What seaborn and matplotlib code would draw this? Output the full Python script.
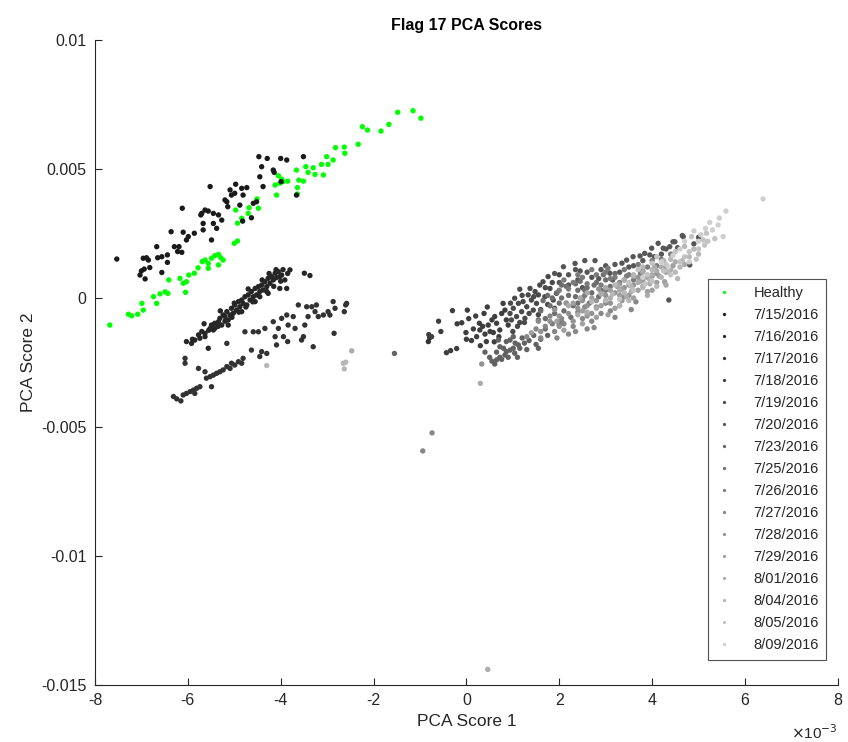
import numpy as np
import pandas as pd
import matplotlib
matplotlib.use("Agg")
import matplotlib.pyplot as plt
import seaborn as sns

# ---- data (PCA scores, in units of 1e-3) ----
labels = ["Healthy", "7/15/2016", "7/16/2016", "7/17/2016", "7/18/2016", "7/19/2016",
          "7/20/2016", "7/23/2016", "7/25/2016", "7/26/2016", "7/27/2016", "7/28/2016",
          "7/29/2016", "8/01/2016", "8/04/2016", "8/05/2016", "8/09/2016"]

healthy = [(-7.68,-1.05),(-7.28,-0.63),(-7.21,-0.69),(-7.08,-0.63),(-6.96,-0.47),(-6.99,-0.21),
           (-6.74,0.05),(-6.67,-0.21),(-6.60,0.16),(-6.49,0.24),(-6.43,0.18),(-6.41,0.70),(-6.17,0.76),
           (-6.10,0.57),(-6.03,0.63),(-6.05,0.22),(-5.98,0.89),(-5.86,0.96),(-5.78,1.17),(-5.69,1.41),
           (-5.63,1.47),(-5.56,1.34),(-5.49,1.54),(-5.42,1.64),(-5.34,1.69),(-5.29,1.56),(-5.24,1.47),
           (-5.34,1.28),(-5.56,1.15),(-5.00,2.12),(-4.93,2.21),(-4.93,2.90),(-4.84,3.09),(-4.97,3.41),
           (-4.68,3.50),(-4.48,3.48),(-4.70,3.28),(-4.51,3.84),(-4.09,3.99),(-4.12,4.38),(-4.02,4.45),
           (-3.95,4.51),(-3.85,4.53),(-4.05,4.74),(-3.98,4.61),(-3.66,4.96),(-3.64,4.28),(-3.64,4.03),
           (-3.61,4.57),(-3.51,4.53),(-3.46,5.09),(-3.41,4.87),(-3.30,5.05),(-3.26,4.79),(-3.08,4.77),
           (-3.12,5.18),(-3.01,5.48),(-2.98,5.18),(-2.87,5.35),(-2.82,5.83),(-2.63,5.85),(-2.62,5.61),
           (-2.33,5.96),(-2.24,6.64),(-2.13,6.51),(-1.84,6.47),(-1.67,6.73),(-1.48,7.20),(-1.15,7.26),
           (-0.98,6.97)]

d0715 = [(-7.53,1.51),(-7.03,0.89),(-7.00,1.05),(-6.94,1.12),(-6.92,0.74),(-6.96,1.54),(-6.89,1.56),
         (-6.85,1.47),(-6.82,1.18),(-6.67,1.99),(-6.65,1.56),(-6.56,1.60),(-6.56,0.99),(-6.44,1.38),
         (-6.44,1.67),(-6.36,2.57),(-6.29,1.99),(-6.22,1.80),(-6.19,1.99),(-6.13,1.77),(-6.12,3.48),
         (-6.10,2.55),(-6.03,2.25),(-5.99,2.38),(-5.86,2.51),(-5.72,3.22),(-5.70,3.28),(-5.67,2.64),
         (-5.67,2.89),(-5.63,3.41),(-5.56,3.37),(-5.52,4.32),(-5.49,2.25),(-5.45,2.89),(-5.45,3.28),
         (-5.38,2.70),(-5.34,3.22),(-5.27,3.02),(-5.20,3.80),(-5.16,3.73),(-5.14,3.54),(-5.09,4.19),
         (-5.06,3.99),(-4.99,4.06),(-4.97,4.41),(-4.88,3.60),(-4.84,4.25),(-4.82,2.98),(-4.81,3.99),
         (-4.73,4.28),(-4.63,3.11),(-4.59,3.67),(-4.52,3.73),(-4.47,5.48),(-4.45,4.70),(-4.41,5.09),
         (-4.38,4.32),(-4.29,5.41),(-4.16,4.96),(-4.14,4.87),(-4.00,5.41),(-3.99,4.51),(-3.87,5.35),
         (-3.66,3.99),(-3.51,5.48)]

d0716 = [(-6.03,-1.69),(-5.92,-1.76),(-5.85,-1.63),(-5.77,-1.43),(-5.74,-1.56),(-5.63,-1.50),
         (-5.56,-1.95),(-5.52,-1.18),(-5.49,-1.05),(-5.45,-1.24),(-5.42,-0.98),(-5.34,-0.92),
         (-5.31,-0.79),(-5.27,-1.05),(-5.24,-0.66),(-5.20,-0.72),(-5.16,-0.53),(-5.13,-0.85),
         (-5.09,-0.66),(-5.06,-0.40),(-5.02,-0.59),(-4.99,-0.27),(-4.95,-0.47),(-4.91,-0.14),
         (-4.88,-0.34),(-4.84,-0.08),(-4.81,-0.21),(-4.77,0.05),(-4.73,-0.27),(-4.70,0.12),
         (-4.66,-0.08),(-4.63,0.25),(-4.59,0.05),(-4.55,0.37),(-4.52,0.12),(-4.48,0.44),(-4.45,0.25),
         (-4.41,0.50),(-4.38,0.31),(-4.34,0.63),(-4.30,0.44),(-4.27,0.76),(-4.23,0.57),(-4.20,0.83),
         (-4.16,0.70),(-4.12,0.96),(-4.09,0.79),(-4.05,1.02),(-4.02,0.83),(-3.98,0.89),(-3.91,0.70),
         (-3.87,0.37),(-3.80,1.09),(-3.49,0.96),(-3.37,0.87),(-4.02,0.37),(-4.27,0.18),(-4.55,-0.14),
         (-4.84,-0.53),(-5.13,-1.05),(-5.42,-1.18),(-5.63,-1.37),(-5.90,-1.60),(-5.70,-1.30),
         (-5.55,-1.25),(-5.35,-1.10),(-5.20,-0.90),(-5.05,-0.75),(-4.90,-0.55),(-4.75,-0.35),
         (-4.60,-0.15),(-4.45,0.05),(-4.30,0.25),(-4.15,0.45),(-4.00,0.65),(-3.95,1.10),(-4.10,1.10),
         (-4.25,0.95),(-4.40,0.70),(-4.70,0.35),(-5.00,-0.20),(-5.30,-0.50),(-5.65,-1.00),(-3.85,0.95)]

d0717 = [(-6.31,-3.82),(-6.24,-3.91),(-6.15,-3.99),(-6.10,-3.76),(-6.03,-3.70),(-5.95,-3.63),
         (-5.88,-3.57),(-5.81,-3.50),(-5.74,-3.44),(-5.85,-3.70),(-6.06,-2.53),(-6.06,-2.34),
         (-5.77,-2.73),(-5.63,-2.86),(-5.60,-3.11),(-5.52,-3.05),(-5.49,-3.44),(-5.45,-2.99),
         (-5.38,-2.92),(-5.31,-2.86),(-5.24,-2.79),(-5.16,-2.66),(-5.09,-2.73),(-5.06,-2.53),
         (-4.99,-2.60),(-4.91,-2.47),(-4.84,-2.53),(-4.81,-2.34),(-5.16,-1.76),(-4.77,-1.31),
         (-4.63,-2.02),(-4.59,-1.31),(-4.48,-1.31),(-4.45,-2.27),(-4.41,-2.08),(-4.34,-1.18),
         (-4.30,-2.15),(-4.16,-0.92),(-4.12,-1.50),(-4.09,-1.82),(-4.05,-1.18),(-3.98,-0.79),
         (-3.94,-1.50),(-3.87,-0.66),(-3.85,-1.69),(-3.84,-1.05),(-3.73,-0.72),(-3.69,-1.18),
         (-3.62,-0.27),(-3.55,-1.63),(-3.51,-1.50),(-3.48,-1.05),(-3.44,-0.34),(-3.41,-0.72),
         (-3.33,-0.34),(-3.30,-1.89),(-3.26,-0.53),(-3.23,-0.27),(-3.19,-0.72),(-3.08,-0.66),
         (-2.98,-0.53),(-2.94,-0.66),(-2.87,-0.14),(-2.85,-1.37),(-2.83,-0.40),(-2.63,-0.53),
         (-2.60,-0.27),(-2.58,-0.21),(-0.82,-1.69),(-0.79,-1.54)]

d0718 = [(-0.75,-1.50),(-0.81,-1.42),(-0.30,-0.49),(0.02,-0.47),(-0.10,-0.96),(-0.01,-1.34),
         (0.11,-1.65),(-0.43,-2.12),(-0.34,-2.04),(-0.21,-1.96),(0.22,-1.50),(0.28,-0.98),
         (0.29,-1.24),(0.40,-1.40),(0.43,-1.69),(0.47,-1.05),(0.51,-1.30),(0.58,-1.34),(0.61,-0.72),
         (0.65,-0.98),(0.72,-1.24),(0.76,-0.60),(0.79,-0.21),(0.83,-0.47),(0.86,-0.85),(0.90,-1.05),
         (0.35,-1.10),(0.55,-0.85),(0.15,-1.20),(0.70,-1.50),(-0.55,-1.30),(-0.20,-1.00),
         (0.05,-0.80),(0.20,-0.70),(0.38,-0.60),(0.60,-1.70),(0.30,-1.85),(0.00,-1.60),
         (-0.60,-0.90),(0.45,-0.35)]

d0719 = [(0.94,-0.60),(0.97,-0.85),(1.01,-0.40),(1.04,-0.01),(1.08,-0.72),(1.12,-0.21),(1.15,0.34),
         (1.19,-0.53),(1.22,-0.14),(1.26,-0.79),(1.30,-0.34),(1.33,0.12),(1.37,0.37),(1.40,-0.08),
         (1.44,-0.47),(1.48,0.25),(1.51,-0.21),(1.55,0.12),(1.58,0.50),(1.65,0.63),(1.69,0.05),
         (1.76,0.83),(1.80,0.37),(1.87,-0.08),(1.94,0.18),(1.10,-1.10),(1.25,-0.95),(1.60,-0.45),
         (1.35,-0.60),(1.75,-0.25),(1.00,-1.30),(1.15,-0.95),(1.45,0.05),(1.70,0.40),(1.85,0.60),
         (1.20,0.10),(0.95,-0.20),(1.55,-0.65),(1.90,-0.40),(2.00,0.90)]

d0720 = [(2.09,1.21),(2.34,1.34),(2.55,1.45),(2.77,1.45),(3.09,0.96),(3.45,1.47),(3.59,1.60),
         (3.74,1.63),(3.84,1.73),(3.95,1.67),(4.13,2.12),(4.45,2.18),(4.67,2.38),(4.65,2.42),
         (2.20,0.90),(2.40,0.70),(2.60,1.00),(2.90,1.10),(3.20,1.30),(3.30,1.00),(4.36,-0.08),
         (4.90,2.10),(4.30,1.90),(2.00,0.60),(1.90,0.95),(3.99,1.93),(4.49,2.18),(4.38,1.99),
         (4.24,1.93),(4.81,1.28),(2.70,0.80),(3.60,1.25),(2.45,1.05),(3.00,1.25),(2.20,0.50),
         (2.50,0.40),(2.85,0.75),(3.15,0.70),(3.50,1.20),(3.80,1.45),(4.05,1.60),(4.55,1.95),
         (2.35,1.10),(3.35,1.35),(4.20,1.70),(5.00,2.35)]

d0723 = [(0.61,-2.56),(0.65,-2.40),(0.72,-2.30),(0.76,-2.38),(0.83,-2.21),(0.86,-2.08),(0.94,-2.02),
         (1.01,-1.95),(1.04,-2.14),(1.12,-1.82),(1.15,-1.95),(0.72,-1.89),(0.86,-1.69),(0.69,-1.63),
         (0.94,-1.63),(1.01,-1.50),(0.55,-2.45),(1.25,-1.75),(1.35,-1.65),(0.50,-2.30),(-1.55,-2.15),
         (1.20,-1.55),(0.80,-1.95),(1.45,-1.45),(0.40,-2.10),(0.90,-2.30),(1.10,-2.30),(1.30,-2.00),
         (1.50,-1.80),(1.60,-1.60),(0.65,-2.10),(1.05,-1.75),(1.55,-1.95),(1.75,-1.45)]

d0725 = [(1.60,-0.50),(1.70,-0.80),(1.80,-0.30),(1.90,-0.60),(2.00,-0.20),(2.10,-0.50),(2.20,0.10),
         (2.30,-0.30),(2.40,0.30),(2.50,0.00),(2.60,0.40),(2.70,0.20),(2.80,0.60),(2.90,0.30),
         (3.00,0.70),(2.15,0.45),(2.45,0.65),(1.95,0.20),(2.25,-0.75),(2.65,-0.20),(3.10,0.45),
         (1.75,0.10),(2.05,0.00),(2.35,0.05),(2.85,0.05),(1.65,-0.10),(1.85,0.00),(2.05,0.50),
         (2.35,0.55),(2.55,0.30),(2.75,0.50),(3.20,0.95),(1.70,-1.20),(2.00,-1.05),(2.40,-0.20),
         (1.55,-0.85),(2.95,0.90)]

d0726 = [(2.00,0.30),(2.30,0.60),(2.50,0.80),(2.80,0.90),(3.00,1.00),(3.20,0.80),(3.40,1.10),
         (3.50,0.90),(3.70,1.30),(3.90,1.20),(3.30,0.60),(3.60,0.70),(2.90,0.50),(4.00,1.45),
         (4.20,1.50),(1.85,-1.00),(2.05,-0.90),(2.60,0.55),(3.10,0.75),(3.80,1.05),(2.20,0.35),
         (2.10,0.70),(2.40,0.90),(2.70,1.10),(3.05,1.15),(3.45,0.85),(3.75,0.95),(4.10,1.25),
         (4.40,1.70),(2.15,-0.20),(2.55,0.10),(3.00,0.30)]

d0727 = [(1.50,-1.20),(1.70,-1.10),(1.90,-1.30),(2.10,-1.00),(2.30,-1.10),(2.50,-0.80),(2.70,-0.90),
         (2.90,-0.60),(3.10,-0.50),(3.30,-0.30),(2.20,-1.40),(2.60,-1.20),(1.30,-1.50),(-0.94,-5.93),
         (-0.74,-5.23),(3.00,-0.20),(2.40,-0.55),(1.80,-0.70),(2.80,-0.35),(3.40,0.05),(1.60,-1.55),
         (1.95,-1.55),(2.35,-1.30),(2.75,-1.15),(3.20,-0.75),(3.55,-0.45),(1.55,-0.90),(2.05,-0.80),
         (2.55,-0.35),(3.65,-0.15)]

d0728 = [(1.80,-0.90),(2.00,-0.70),(2.20,-0.60),(2.40,-0.40),(2.60,-0.30),(2.80,-0.10),(3.00,0.10),
         (3.20,0.20),(3.40,0.40),(3.60,0.50),(3.80,0.70),(2.30,-0.90),(2.70,-0.60),(3.10,-0.20),
         (3.50,0.10),(0.33,-2.56),(1.60,-1.30),(2.90,0.20),(3.30,0.55),(4.00,0.85),(1.90,-0.45),
         (2.15,-0.20),(2.50,-0.10),(2.85,0.35),(3.25,0.45),(3.70,0.80),(4.10,0.95),(2.00,-1.10),
         (2.60,-0.70),(3.35,-0.10),(4.30,1.20)]

d0729 = [(2.50,-0.50),(2.70,0.00),(2.90,-0.30),(3.10,0.30),(3.30,0.10),(3.50,0.50),(3.70,0.30),
         (3.90,0.80),(4.10,0.60),(4.30,1.00),(3.20,-0.40),(3.60,0.00),(4.00,0.30),(2.10,-1.25),
         (2.50,-1.00),(4.27,0.63),(1.40,-1.35),(3.40,0.70),(3.80,0.45),(2.80,-0.75),(2.30,-0.20),
         (2.60,-0.60),(3.00,-0.10),(3.35,0.35),(3.75,0.65),(4.15,0.85),(4.45,1.25),(1.95,-0.90),
         (3.05,-0.65),(3.90,0.25)]

d0801 = [(2.20,-0.30),(2.60,0.20),(3.00,0.40),(3.40,0.70),(3.80,1.00),(4.20,1.20),(4.50,1.40),
         (3.30,0.30),(3.70,0.60),(4.00,0.90),(2.80,-0.40),(3.90,0.10),(4.30,0.50),(0.30,-3.31),
         (-2.47,-2.05),(0.46,-14.40),(3.10,0.00),(3.55,0.25),(2.40,-0.65),(4.10,1.05),(2.45,0.00),
         (2.90,0.15),(3.25,0.50),(3.60,0.85),(4.05,1.20),(4.40,1.10),(4.70,1.30),(2.60,-0.55),
         (3.45,0.05),(3.95,0.55)]

d0804 = [(3.00,-0.10),(3.40,0.20),(3.80,0.40),(4.20,0.80),(4.60,1.20),(3.60,0.90),(4.00,1.10),
         (4.40,1.50),(4.80,1.60),(3.20,0.50),(-2.65,-2.53),(-2.60,-2.49),(-2.63,-2.75),(-4.30,-2.62),
         (4.90,1.90),(4.70,2.00),(3.50,-0.10),(4.10,0.45),(2.70,-0.15),(4.50,1.00),(3.15,0.15),
         (3.55,0.45),(3.95,0.70),(4.35,1.05),(4.65,1.45),(5.00,1.70),(3.80,1.20),(4.25,1.45),
         (3.30,-0.30),(4.55,0.75)]

d0805 = [(3.50,0.60),(3.90,0.90),(4.30,1.30),(4.70,1.60),(5.00,1.90),(5.20,2.20),(4.10,1.60),
         (4.50,1.80),(3.70,1.10),(4.85,2.38),(5.10,2.25),(5.13,2.05),(5.17,2.51),(4.40,0.90),
         (3.30,-0.05),(4.00,0.65),(4.60,1.40),(3.60,0.30),(4.00,1.35),(4.25,1.05),(4.80,1.80),
         (5.35,2.30),(4.95,1.50),(3.85,0.55)]

d0809 = [(6.39,3.84),(5.59,3.37),(5.24,2.93),(5.42,2.83),(5.30,2.64),(5.53,2.38),(4.90,2.60),
         (4.60,1.90),(4.80,1.40),(5.00,2.20),(4.20,1.40),(3.80,0.80),(4.45,1.65),(5.05,2.45),
         (4.70,2.20),(5.15,2.70),(5.45,3.10),(4.35,1.20)]

series = [healthy, d0715, d0716, d0717, d0718, d0719, d0720, d0723, d0725, d0726,
          d0727, d0728, d0729, d0801, d0804, d0805, d0809]

xticks = [-8, -6, -4, -2, 0, 2, 4, 6, 8]
yticks = [0.01, 0.005, 0, -0.005, -0.01, -0.015]
ytick_labels = ["0.01", "0.005", "0", "-0.005", "-0.01", "-0.015"]

rows = []
for lab, pts in zip(labels, series):
    for x, y in pts:
        rows.append({"PCA Score 1": x * 1e-3, "PCA Score 2": y * 1e-3, "Date": lab})
df = pd.DataFrame(rows)

# ---- style ----
sns.set_theme(style="white")
plt.rcParams["font.family"] = ["Liberation Sans", "DejaVu Sans"]
axc = (0.15, 0.15, 0.15)

grays = sns.blend_palette(["#1a1a1a", "#cfcfcf"], 16)
palette = [(0.0, 1.0, 0.0)] + list(grays)

fig = plt.figure(figsize=(8.48, 7.42), dpi=100)
ax = fig.add_axes([0.112, 0.077, 0.876, 0.869])

sns.scatterplot(data=df, x="PCA Score 1", y="PCA Score 2", hue="Date",
                hue_order=labels, palette=palette, s=15, linewidth=0,
                ax=ax, legend=True)

ax.set_xlim(-8e-3, 8e-3)
ax.set_ylim(-0.015, 0.01)
ax.set_xticks([t * 1e-3 for t in xticks])
ax.set_xticklabels([str(t) for t in xticks])
ax.set_yticks(yticks)
ax.set_yticklabels(ytick_labels)

for s in ["top", "right"]:
    ax.spines[s].set_visible(False)
for s in ["left", "bottom"]:
    ax.spines[s].set_color(axc)
    ax.spines[s].set_linewidth(0.8)
ax.tick_params(direction="in", length=5, width=0.8, colors=axc, labelsize=11.5,
               left=True, bottom=True, pad=6)

ax.set_xlabel("PCA Score 1", fontsize=12.5, color=axc, labelpad=4)
ax.set_ylabel("PCA Score 2", fontsize=12.5, color=axc, labelpad=4)
ax.set_title("Flag 17 PCA Scores", fontsize=11.5, fontweight="bold", color="black", pad=7)
ax.text(1.0, -0.06, r"$\times$10$^{-3}$", transform=ax.transAxes, ha="right", va="top",
        fontsize=11, color=axc)

leg = ax.legend(loc="lower right", bbox_to_anchor=(0.984, 0.039), borderaxespad=0,
                frameon=True, fontsize=10.5, markerscale=0.6, handlelength=1.2,
                handletextpad=1.4, labelspacing=0.55, borderpad=0.5, fancybox=False,
                edgecolor=axc)
leg.get_frame().set_linewidth(0.8)
for t in leg.get_texts():
    t.set_color(axc)

fig.savefig("out.png", dpi=100)
